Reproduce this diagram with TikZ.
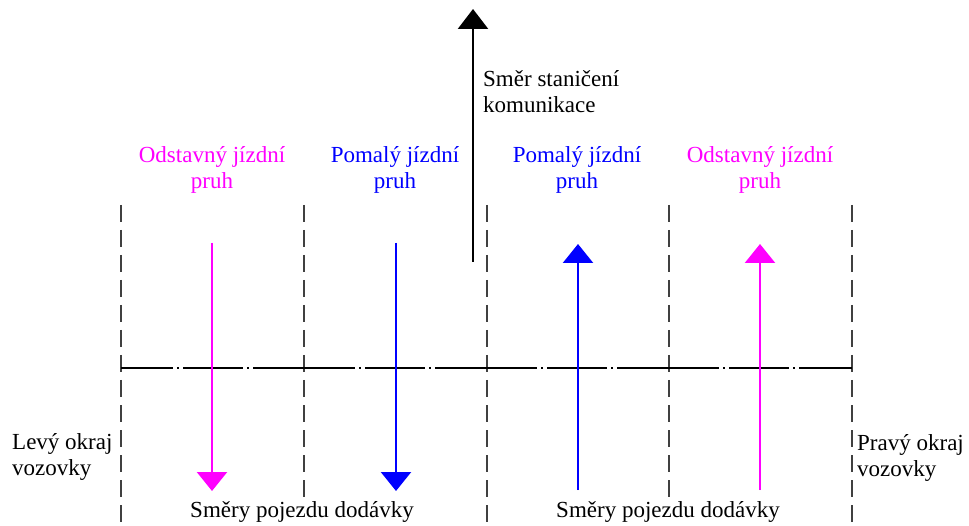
\documentclass[tikz,border=0pt]{standalone}
\usepackage{fontspec}
\setmainfont{Liberation Serif}
\usetikzlibrary{arrows.meta}
\definecolor{mag}{RGB}{255,0,255}
\definecolor{blu}{RGB}{0,0,255}
\begin{document}
\begin{tikzpicture}[x=1pt,y=-1pt,
  lbl/.style={font=\fontsize{23}{26}\selectfont, inner sep=0pt, anchor=base},
  edge/.style={draw=black!75, line width=1.3pt, dash pattern=on 17pt off 8pt},
  axisline/.style={draw=black, line width=2.6pt, dash pattern=on 102pt off 4pt on 2pt off 4pt on 60pt off 4pt on 2pt off 4pt, dash phase=50pt},
  lane/.style={line width=2.4pt, -{Triangle[width=30pt,length=19pt]}},
  mainarrow/.style={line width=2.6pt, -{Triangle[width=30pt,length=20pt]}}]
\useasboundingbox (0,0) rectangle (969,526);
% lane edges
\foreach \n/\x in {e1/121,e2/304,e3/487,e4/669,e5/852}{
  \coordinate (\n t) at (\x,205);
  \coordinate (\n b) at (\x,526);
  \draw[edge] (\n t) -- (\n b);
}
% centre line
\coordinate (cl) at (121,368);
\coordinate (cr) at (852,368);
\draw[axisline] (cl) -- (cr);
% main arrow
\coordinate (ms) at (473,262);
\coordinate (mt) at (473,9);
\draw[mainarrow] (ms) -- (mt);
% lane arrows
\coordinate (a1s) at (212,243); \coordinate (a1e) at (212,491);
\coordinate (a2s) at (396,243); \coordinate (a2e) at (396,491);
\coordinate (a3s) at (578,490); \coordinate (a3e) at (578,244);
\coordinate (a4s) at (760,490); \coordinate (a4e) at (760,244);
\draw[lane,draw=mag,fill=mag] (a1s) -- (a1e);
\draw[lane,draw=blu,fill=blu] (a2s) -- (a2e);
\draw[lane,draw=blu,fill=blu] (a3s) -- (a3e);
\draw[lane,draw=mag,fill=mag] (a4s) -- (a4e);
% labels (base anchor = baseline of last line)
\node[lbl,text=mag,align=center] (t1) at (212,189) {Odstavný jízdní\\pruh};
\node[lbl,text=blu,align=center] (t2) at (395,189) {Pomalý jízdní\\pruh};
\node[lbl,text=blu,align=center] (t3) at (577,189) {Pomalý jízdní\\pruh};
\node[lbl,text=mag,align=center] (t4) at (760,189) {Odstavný jízdní\\pruh};
\node[lbl,anchor=base west,align=left] (tm) at (483,113) {Směr staničení\\komunikace};
\node[lbl,anchor=base west,align=left] (tl) at (12,475) {Levý okraj\\vozovky};
\node[lbl,anchor=base west,align=left] (tr) at (857,476) {Pravý okraj\\vozovky};
\node[lbl,fill=white,inner ysep=2pt] (s1) at (302,517) {Směry pojezdu dodávky};
\node[lbl,fill=white,inner ysep=2pt] (s2) at (668,517) {Směry pojezdu dodávky};
\end{tikzpicture}
\end{document}
